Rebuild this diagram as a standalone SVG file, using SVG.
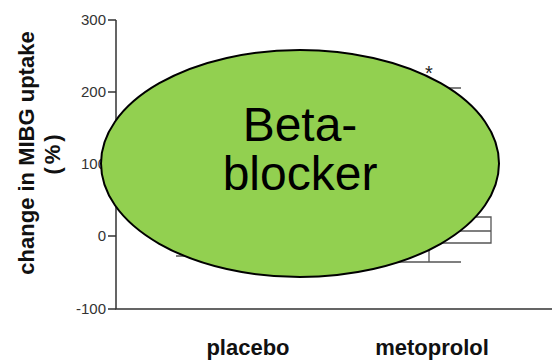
<svg xmlns="http://www.w3.org/2000/svg" width="552" height="361" viewBox="0 0 552 361">
<style>
.ax{stroke:#333;stroke-width:1.5;fill:none}
.bx{stroke:#555;stroke-width:1.3;fill:none}
.tick{font-family:"Liberation Sans",Arial,sans-serif;font-size:15px;fill:#333;text-anchor:end}
.lab{font-family:"Liberation Sans",Arial,sans-serif;font-size:22px;font-weight:bold;fill:#111;text-anchor:middle}
.big{font-family:"Liberation Sans",Arial,sans-serif;font-size:48px;fill:#000;text-anchor:middle}
</style>
<rect width="552" height="361" fill="#fff"/>
<g id="axes">
<path class="ax" d="M116,20V309H552"/>
<path class="ax" d="M108,20H116M108,92H116M108,164H116M108,236H116M108,309H116"/>
<text class="tick" x="106" y="25">300</text>
<text class="tick" x="106" y="97">200</text>
<text class="tick" x="106" y="169">100</text>
<text class="tick" x="106" y="241">0</text>
<text class="tick" x="106" y="314">-100</text>
</g>
<g id="ylabel">
<text class="lab" transform="translate(34,153) rotate(-90)" font-size="24.5">change in MIBG uptake</text>
<text class="lab" transform="translate(60,153) rotate(-90)" font-size="24.5" letter-spacing="3">(%)</text>
</g>
<g id="placebo">
<path class="bx" d="M176,256H216"/>
<text class="lab" x="248" y="355">placebo</text>
</g>
<g id="metoprolol">
<path class="bx" d="M367,217H491V243H367ZM367,231H491M429,243V262M397,262H461M429,88V217M397,88H461"/>
<text x="429" y="80" font-family="Liberation Sans,Arial,sans-serif" font-size="20" fill="#222" text-anchor="middle">*</text>
<text class="lab" x="432" y="355">metoprolol</text>
</g>
<g id="beta-blocker">
<ellipse cx="300" cy="163.5" rx="199" ry="113.5" fill="#92D050" stroke="#000" stroke-width="2"/>
<text class="big" x="300" y="141">Beta-</text>
<text class="big" x="300" y="190">blocker</text>
</g>
</svg>
